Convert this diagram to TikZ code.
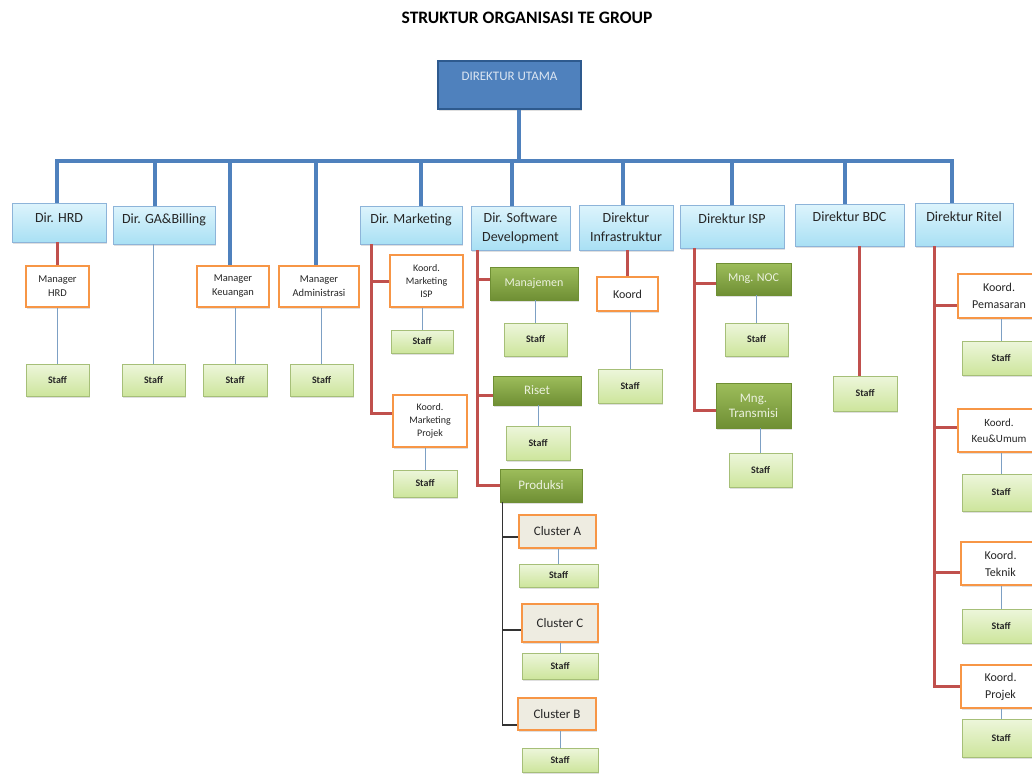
\documentclass[tikz,border=0pt]{standalone}
\usepackage{fontspec}
\setmainfont{Carlito}
\usetikzlibrary{shadows}

\definecolor{dirtop}{HTML}{DDF4FC}
\definecolor{dirbot}{HTML}{A9E0F4}
\definecolor{dirline}{HTML}{8DB4D9}
\definecolor{stafftop}{HTML}{EDF6DB}
\definecolor{staffbot}{HTML}{CDE59C}
\definecolor{staffline}{HTML}{A6BF78}
\definecolor{unittop}{HTML}{9DBD5B}
\definecolor{unitbot}{HTML}{6F8F34}
\definecolor{unittext}{HTML}{EBF1DE}
\definecolor{oranye}{HTML}{F79646}
\definecolor{abu}{HTML}{EEECE1}
\definecolor{utamafill}{HTML}{4F81BD}
\definecolor{utamaline}{HTML}{2E5A8E}
\definecolor{utamatext}{HTML}{DCE6F2}
\definecolor{busblue}{HTML}{4F81BD}
\definecolor{merah}{HTML}{C0504D}
\definecolor{tipis}{HTML}{7DA0C4}

\tikzset{
  box/.style={rectangle, inner sep=1pt, align=center,
    drop shadow={opacity=.25, shadow xshift=1.2pt, shadow yshift=-1.5pt}},
  utamabox/.style={box, fill=utamafill, draw=utamaline, line width=1.6pt,
    text=utamatext, font=\fontsize{13}{16}\selectfont},
  dirbox/.style={box, draw=dirline, line width=.8pt, top color=dirtop,
    bottom color=dirbot, text=black!85, font=\fontsize{14}{19}\selectfont},
  mgrbox/.style={box, draw=oranye, line width=2.2pt, fill=white,
    text=black!85, font=\fontsize{10.5}{14}\selectfont},
  unitbox/.style={box, draw=unitbot, line width=.5pt, top color=unittop,
    bottom color=unitbot, text=unittext, font=\fontsize{13}{15}\selectfont},
  clusterbox/.style={box, draw=oranye, line width=2.2pt, fill=abu,
    text=black!85, font=\fontsize{13}{15}\selectfont},
  staffbox/.style={box, draw=staffline, line width=.8pt, top color=stafftop,
    bottom color=staffbot, text=black!85, font=\bfseries\fontsize{10}{12}\selectfont},
  busline/.style={draw=busblue, line width=3.2pt},
  redline/.style={draw=merah, line width=3pt},
  thinline/.style={draw=tipis, line width=.9pt},
  blackline/.style={draw=black!80, line width=1.1pt}
}

\begin{document}
\begin{tikzpicture}[x=1pt,y=-1pt]
\useasboundingbox (0,0) rectangle (1032,774);
\clip (0,0) rectangle (1032,774);

\node[font=\bfseries\fontsize{17.5}{20}\selectfont] (judul) at (527,18) {STRUKTUR ORGANISASI TE GROUP};

\node[utamabox, minimum width=143, minimum height=48, text height=15pt, text depth=25pt] (utama) at (509.5,85) {DIREKTUR UTAMA};

% direktur
\node[dirbox, minimum width=94, minimum height=39, text depth=10pt] (hrd) at (59,222.5) {Dir. HRD};
\node[dirbox, minimum width=102, minimum height=38, text depth=13pt] (ga) at (164,225) {Dir. GA\&Billing};
\node[dirbox, minimum width=102, minimum height=38, text depth=13pt] (mkt) at (411,225) {Dir. Marketing};
\node[dirbox, minimum width=99, minimum height=44] (soft) at (520.5,228) {Dir. Software\\Development};
\node[dirbox, minimum width=94, minimum height=45] (infra) at (626,227.5) {Direktur\\Infrastruktur};
\node[dirbox, minimum width=104, minimum height=43, text depth=16pt] (isp) at (732,226.5) {Direktur ISP};
\node[dirbox, minimum width=109, minimum height=42, text depth=16pt] (bdc) at (849.5,225) {Direktur BDC};
\node[dirbox, minimum width=98, minimum height=43, text depth=15pt] (ritel) at (964,224.5) {Direktur Ritel};

% manager
\node[mgrbox, minimum width=63, minimum height=41] (mhrd) at (57.5,286.5) {Manager\\HRD};
\node[mgrbox, minimum width=72, minimum height=41] (mkeu) at (233,286.5) {Manager\\Keuangan};
\node[mgrbox, minimum width=80, minimum height=41] (madm) at (319,286.5) {Manager\\Administrasi};
\node[mgrbox, minimum width=73, minimum height=52, font=\fontsize{10}{13}\selectfont] (kmisp) at (426.5,281) {Koord.\\Marketing\\ISP};
\node[mgrbox, minimum width=74, minimum height=52, font=\fontsize{10}{13}\selectfont] (kmproj) at (430,421) {Koord.\\Marketing\\Projek};
\node[mgrbox, minimum width=61, minimum height=34, font=\fontsize{12}{15}\selectfont] (koord) at (627.5,294) {Koord};
\node[mgrbox, minimum width=82, minimum height=44, font=\fontsize{12}{16.5}\selectfont] (kpem) at (999,296) {Koord.\\Pemasaran};
\node[mgrbox, minimum width=82, minimum height=43, font=\fontsize{11}{16}\selectfont] (kkeu) at (999,430.5) {Koord.\\Keu\&Umum};
\node[mgrbox, minimum width=79, minimum height=43, font=\fontsize{12}{17}\selectfont] (ktek) at (1000.5,563.5) {Koord.\\Teknik};
\node[mgrbox, minimum width=79, minimum height=43, font=\fontsize{12}{17}\selectfont] (kproj) at (1000.5,686.5) {Koord.\\Projek};

% unit
\node[unitbox, minimum width=88, minimum height=33, font=\fontsize{12}{15}\selectfont] (manaj) at (534,283.5) {Manajemen};
\node[unitbox, minimum width=88, minimum height=29] (riset) at (537,390.5) {Riset};
\node[unitbox, minimum width=82, minimum height=33] (prod) at (541,485.5) {Produksi};
\node[unitbox, minimum width=75, minimum height=32, font=\fontsize{12}{15}\selectfont] (noc) at (753.5,279) {Mng. NOC};
\node[unitbox, minimum width=75, minimum height=45] (trans) at (753.5,405.5) {Mng.\\Transmisi};

\node[clusterbox, minimum width=77, minimum height=33] (clA) at (557.5,531.5) {Cluster A};
\node[clusterbox, minimum width=76, minimum height=38] (clC) at (560,623) {Cluster C};
\node[clusterbox, minimum width=78, minimum height=32] (clB) at (557,714) {Cluster B};

% staff
\node[staffbox, minimum width=63, minimum height=32] (s_hrd) at (57.5,380) {Staff};
\node[staffbox, minimum width=63, minimum height=32] (s_ga) at (153.5,380) {Staff};
\node[staffbox, minimum width=64, minimum height=32] (s_keu) at (235,380) {Staff};
\node[staffbox, minimum width=63, minimum height=32] (s_adm) at (321.5,380) {Staff};
\node[staffbox, minimum width=62, minimum height=23] (s_mkisp) at (422,341.5) {Staff};
\node[staffbox, minimum width=64, minimum height=27] (s_mkproj) at (425,483.5) {Staff};
\node[staffbox, minimum width=63, minimum height=33] (s_man) at (535.5,339.5) {Staff};
\node[staffbox, minimum width=64, minimum height=34] (s_ris) at (538,443) {Staff};
\node[staffbox, minimum width=79, minimum height=23] (s_clA) at (558.5,575.5) {Staff};
\node[staffbox, minimum width=76, minimum height=26] (s_clC) at (560,666) {Staff};
\node[staffbox, minimum width=76, minimum height=24] (s_clB) at (560,760) {Staff};
\node[staffbox, minimum width=64, minimum height=34] (s_inf) at (630,386) {Staff};
\node[staffbox, minimum width=63, minimum height=33] (s_noc) at (756.5,339.5) {Staff};
\node[staffbox, minimum width=63, minimum height=34] (s_tr) at (760.5,470) {Staff};
\node[staffbox, minimum width=64, minimum height=35] (s_bdc) at (865,393.5) {Staff};
\node[staffbox, minimum width=78, minimum height=34] (s_pem) at (1001,358) {Staff};
\node[staffbox, minimum width=78, minimum height=37] (s_kkeu) at (1001,492.5) {Staff};
\node[staffbox, minimum width=78, minimum height=34] (s_tek) at (1001,626) {Staff};
\node[staffbox, minimum width=78, minimum height=38] (s_proj) at (1001,738) {Staff};

% garis
\coordinate (bus) at (519,161);
\draw[busline] (bus |- utama.south) -- (bus);
\draw[busline] ([xshift=-2pt]hrd.north) |- (bus) -| ([xshift=-12pt]ritel.north);
\foreach \n/\dx in {ga/-9,mkt/10,soft/-8.5,infra/-3,isp/0,bdc/-4.5,mkeu/-3,madm/-3}
  \draw[busline] ([xshift=\dx pt]\n.north) |- (bus);

\draw[redline] (mhrd.north |- hrd.south) -- (mhrd.north);
\draw[redline] (koord.north |- infra.south) -- (koord.north);
\coordinate (bdcdrop) at ([xshift=-6pt]s_bdc.north);
\draw[redline] (bdcdrop |- bdc.south) -- (bdcdrop);

\coordinate (mkspine) at ([xshift=12pt]mkt.south west);
\draw[redline] (mkspine) |- ([yshift=8pt]kmproj.west);
\draw[redline] (kmisp.west) -| (mkspine);

\coordinate (swspine) at ([xshift=7pt]soft.south west);
\draw[redline] (swspine) |- (prod.west);
\draw[redline] ([yshift=4.5pt]manaj.west) -| (swspine);
\draw[redline] ([yshift=-4.5pt]riset.west) -| (swspine);

\coordinate (ispspine) at ([xshift=15pt]isp.south west);
\draw[redline] (ispspine) |- ([yshift=-4.5pt]trans.west);
\draw[redline] ([yshift=-4pt]noc.west) -| (ispspine);

\coordinate (rtspine) at ([xshift=20pt]ritel.south west);
\draw[redline] (rtspine) |- (kproj.west);
\draw[redline] ([yshift=-9pt]kpem.west) -| (rtspine);
\draw[redline] ([yshift=3.5pt]kkeu.west) -| (rtspine);
\draw[redline] ([yshift=-8.5pt]ktek.west) -| (rtspine);

\coordinate (prspine) at ([xshift=3pt]prod.south west);
\draw[blackline] (prspine) |- ([yshift=-11pt]clB.west);
\draw[blackline] ([yshift=-5.5pt]clA.west) -| (prspine);
\draw[blackline] ([yshift=-7pt]clC.west) -| (prspine);

\foreach \a/\b in {mhrd/s_hrd,ga/s_ga,mkeu/s_keu,madm/s_adm,kmisp/s_mkisp,kmproj/s_mkproj,
  manaj/s_man,riset/s_ris,clA/s_clA,clC/s_clC,clB/s_clB,koord/s_inf,noc/s_noc,trans/s_tr,
  kpem/s_pem,kkeu/s_kkeu,ktek/s_tek,kproj/s_proj}
  \draw[thinline] (\b.north) -- (\b.north |- \a.south);
\end{tikzpicture}
\end{document}
